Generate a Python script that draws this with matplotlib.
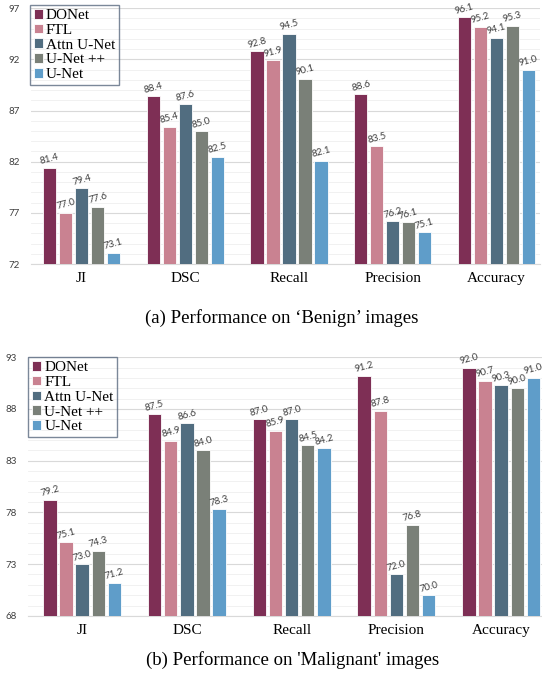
import numpy as np
import matplotlib.pyplot as plt

metrics = ['JI', 'DSC', 'Recall', 'Precision', 'Accuracy']
models = ['DONet', 'FTL', 'Attn U-Net', 'U-Net ++', 'U-Net']
colors = ['#7E2F55', '#C98291', '#516D80', '#7A8078', '#5F9DC9']

# rows = models, columns = metrics
benign = [
    [81.4, 88.4, 92.8, 88.6, 96.1],
    [77.0, 85.4, 91.9, 83.5, 95.2],
    [79.4, 87.6, 94.5, 76.2, 94.1],
    [77.6, 85.0, 90.1, 76.1, 95.3],
    [73.1, 82.5, 82.1, 75.1, 91.0],
]
malignant = [
    [79.2, 87.5, 87.0, 91.2, 92.0],
    [75.1, 84.9, 85.9, 87.8, 90.7],
    [73.0, 86.6, 87.0, 72.0, 90.3],
    [74.3, 84.0, 84.5, 76.8, 90.0],
    [71.2, 78.3, 84.2, 70.0, 91.0],
]

serif = 'Liberation Serif'
sans = 'Lato'

fig = plt.figure(figsize=(5.42, 6.79), dpi=100)


def draw(ax, data, ymin, ymax, xlim, leg_anchor):
    x = np.arange(len(metrics))
    step = 0.154
    width = 0.128
    for i, (name, vals) in enumerate(zip(models, data)):
        pos = x + (i - 2) * step
        ax.bar(pos, np.array(vals) - ymin, width, bottom=ymin, color=colors[i],
               edgecolor='white', linewidth=0.6, label=name, zorder=3)
        for px, v in zip(pos, vals):
            ax.text(px, v + 0.15, f'{v:.1f}', rotation=15, ha='center', va='bottom',
                    fontsize=7, color='#404040', family=sans, zorder=4)
    ax.set_ylim(ymin, ymax)
    ax.set_xlim(*xlim)
    ax.set_yticks(np.arange(ymin, ymax + 1, 5))
    ax.set_yticks(np.arange(ymin, ymax + 1, 1), minor=True)
    ax.grid(axis='y', which='major', color='#D9D9D9', linewidth=0.8, zorder=0)
    ax.grid(axis='y', which='minor', color='#EFEFEF', linewidth=0.6, zorder=0)
    for s in ['top', 'right', 'left']:
        ax.spines[s].set_visible(False)
    ax.spines['bottom'].set_color('#D9D9D9')
    ax.tick_params(axis='both', which='both', length=0)
    ax.tick_params(axis='y', labelsize=7, labelcolor='#404040', pad=8)
    for t in ax.get_yticklabels():
        t.set_family(sans)
    ax.set_xticks(x)
    ax.set_xticklabels(metrics, family=serif, fontsize=11)
    ax.tick_params(axis='x', pad=6)
    leg = ax.legend(loc='upper left', bbox_to_anchor=leg_anchor, prop={'family': serif, 'size': 11},
                    handlelength=0.6, handleheight=0.6, handletextpad=0.2, labelspacing=0.1,
                    borderpad=0.25, borderaxespad=0, fancybox=False)
    frame = leg.get_frame()
    frame.set_facecolor('none')
    frame.set_edgecolor('#5A6A80')
    frame.set_linewidth(1.0)


ax1 = fig.add_axes([0.057, 0.611, 0.939, 0.377])
draw(ax1, benign, 72, 97, (-0.49, 4.42), (-0.002, 1.012))
fig.text(0.52, 0.531, '(a) Performance on \u2018Benign\u2019 images', ha='center', va='center',
         family=serif, fontsize=13.5)

ax2 = fig.add_axes([0.052, 0.093, 0.948, 0.381])
draw(ax2, malignant, 68, 93, (-0.515, 4.39), (0.0, 1.0))
fig.text(0.54, 0.028, "(b) Performance on 'Malignant' images", ha='center', va='center',
         family=serif, fontsize=13.5)

fig.savefig('out.png', dpi=100, facecolor='white')
